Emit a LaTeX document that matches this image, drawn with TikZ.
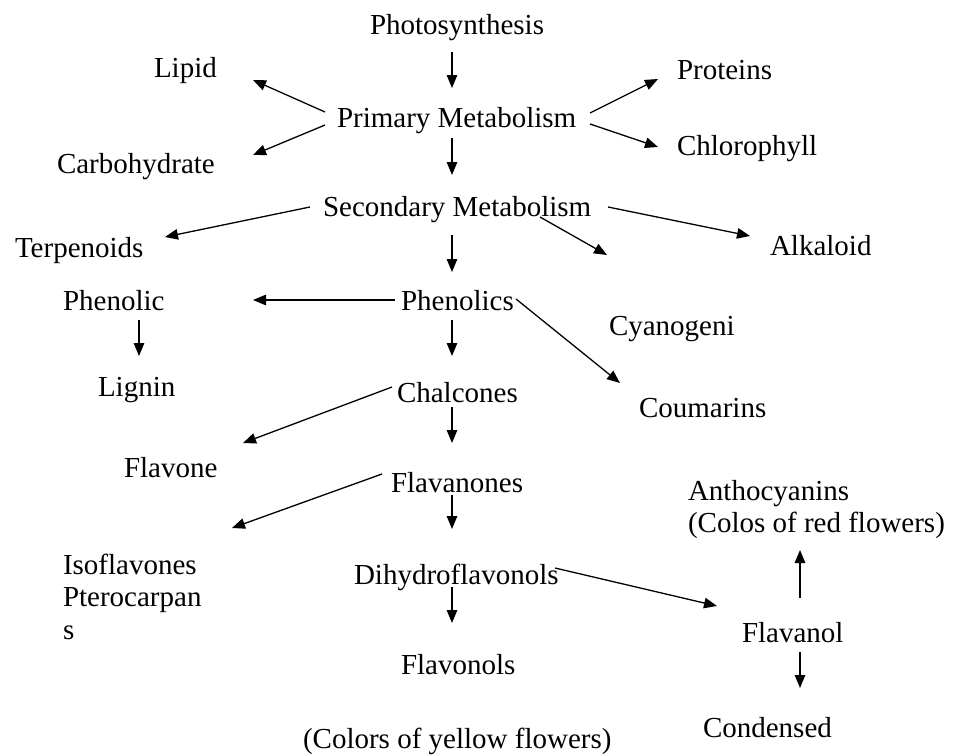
\documentclass[tikz,border=0pt]{standalone}
\usepackage{fontspec}
\setmainfont{Liberation Serif}
\usetikzlibrary{arrows.meta,calc}
\tikzset{
  lbl/.style={inner sep=0pt, outer sep=0pt, anchor=base west, font=\fontsize{29}{32.5}\selectfont, text=black},
  arr/.style={line width=1.3pt, -{Triangle[length=13pt,width=10.5pt]}}
}
\begin{document}
\begin{tikzpicture}[x=1pt,y=-1pt]
\useasboundingbox[fill=white] (0,0) rectangle (955,755);
% nodes (left x, baseline y)
\node[lbl] (photo) at (370,34) {Photosynthesis};
\node[lbl] (lipid) at (154,77) {Lipid};
\node[lbl] (prot) at (677,79) {Proteins};
\node[lbl] (prim) at (337,127) {Primary Metabolism};
\node[lbl] (chl) at (677,155) {Chlorophyll};
\node[lbl] (carb) at (57,173) {Carbohydrate};
\node[lbl] (sec) at (323,216) {Secondary Metabolism};
\node[lbl] (terp) at (15,257) {Terpenoids};
\node[lbl] (alk) at (770,255) {Alkaloid};
\node[lbl] (phenolic) at (63,310) {Phenolic};
\node[lbl] (phenolics) at (401,310) {Phenolics};
\node[lbl] (cyan) at (609,335) {Cyanogeni};
\node[lbl] (lignin) at (98,396) {Lignin};
\node[lbl] (chal) at (397,402) {Chalcones};
\node[lbl] (coum) at (639,417) {Coumarins};
\node[lbl] (flavone) at (124,477) {Flavone};
\node[lbl] (flavan) at (391,492) {Flavanones};
\node[lbl] (antho) at (688,500) {\begin{tabular}[t]{@{}l@{}}Anthocyanins\\(Colos of red flowers)\end{tabular}};
\node[lbl] (iso) at (63,574) {\begin{tabular}[t]{@{}l@{}}Isoflavones\\Pterocarpan\\s\end{tabular}};
\node[lbl] (dihydro) at (354,584) {Dihydroflavonols};
\node[lbl] (flavanol) at (742,642) {Flavanol};
\node[lbl] (flavonols) at (401,674) {Flavonols};
\node[lbl] (cond) at (703,737) {Condensed};
\node[lbl] (yellow) at (303,748) {(Colors of yellow flowers)};
% connectors
\draw[arr] ($(photo.base west)+(82,18)$) -- ($(prim.base west)+(115,-39)$);
\draw[arr] ($(prim.base west)+(-12,-15)$) -- ($(lipid.base west)+(99,3)$);
\draw[arr] ($(prim.base west)+(-12,-2)$) -- ($(carb.base west)+(196,-18)$);
\draw[arr] ($(prim.base west)+(253,-14)$) -- ($(prot.base west)+(-19,0)$);
\draw[arr] ($(prim.base west)+(253,-3)$) -- ($(chl.base west)+(-19,-8)$);
\draw[arr] ($(prim.base west)+(115,11)$) -- ($(sec.base west)+(129,-41)$);
\draw[arr] ($(sec.base west)+(-13,-9)$) -- ($(terp.base west)+(150,-20)$);
\draw[arr] ($(sec.base west)+(285,-9)$) -- ($(alk.base west)+(-20,-19)$);
\draw[arr] ($(sec.base west)+(217,1)$) -- ($(cyan.base west)+(-2,-80)$);
\draw[arr] ($(sec.base west)+(129,19)$) -- ($(phenolics.base west)+(51,-38)$);
\draw[arr] ($(phenolics.base west)+(-6,-10)$) -- ($(phenolic.base west)+(190,-10)$);
\draw[arr] ($(phenolic.base west)+(76,10)$) -- ($(lignin.base west)+(41,-40)$);
\draw[arr] ($(phenolics.base west)+(51,10)$) -- ($(chal.base west)+(55,-46)$);
\draw[arr] ($(phenolics.base west)+(115,-11)$) -- ($(coum.base west)+(-19,-34)$);
\draw[arr] ($(chal.base west)+(-5,-15)$) -- ($(flavone.base west)+(119,-34)$);
\draw[arr] ($(chal.base west)+(55,5)$) -- ($(flavan.base west)+(61,-49)$);
\draw[arr] ($(flavan.base west)+(-9,-18)$) -- ($(iso.base west)+(169,-46)$);
\draw[arr] ($(flavan.base west)+(61,3)$) -- ($(dihydro.base west)+(98,-55)$);
\draw[arr] ($(dihydro.base west)+(98,3)$) -- ($(flavonols.base west)+(51,-51)$);
\draw[arr] ($(dihydro.base west)+(201,-16)$) -- ($(flavanol.base west)+(-25,-36)$);
\draw[arr] ($(flavanol.base west)+(58,-44)$) -- ($(antho.base west)+(112,50)$);
\draw[arr] ($(flavanol.base west)+(58,10)$) -- ($(cond.base west)+(97,-49)$);
\end{tikzpicture}
\end{document}
